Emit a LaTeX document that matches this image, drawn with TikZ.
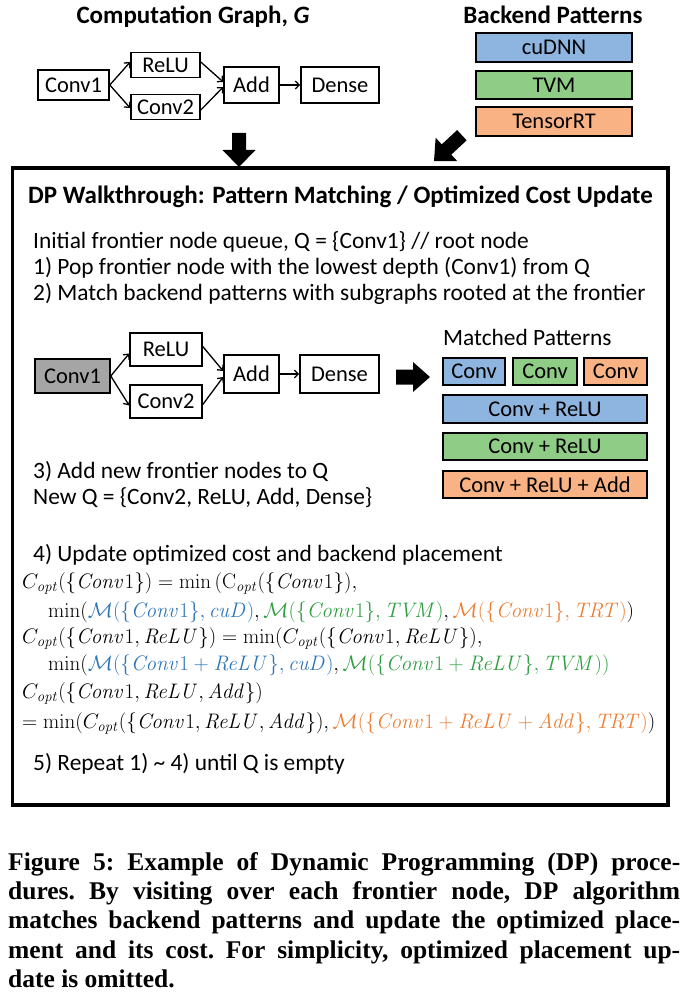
\RequirePackage{fix-cm}
\documentclass[tikz,border=0pt]{standalone}
\usepackage[no-math]{fontspec}
\setmainfont{Carlito}
\newfontfamily\capfont{Liberation Serif}
\usetikzlibrary{arrows.meta}
\definecolor{bfill}{HTML}{8EB4E0}
\definecolor{gfill}{HTML}{8FCD86}
\definecolor{ofill}{HTML}{F8B284}
\definecolor{mblue}{HTML}{2E75B6}
\definecolor{mgreen}{HTML}{2E9E40}
\definecolor{morange}{HTML}{ED7D31}
\definecolor{gshade}{HTML}{A5A5A5}
\newcommand{\mi}[1]{\mathit{#1}}
\tikzset{
 gbox/.style={draw, line width=1.6pt, inner sep=0pt, font=\fontsize{22.5}{24}\selectfont},
 edge/.style={line width=1.3pt, -{Straight Barb[length=4pt,width=8pt]}},
 txt/.style={anchor=base west, inner sep=0pt, font=\fontsize{23.4}{26}\selectfont},
 mth/.style={anchor=base west, inner sep=0pt, font=\fontsize{21}{25}\selectfont},
 ttl/.style={anchor=base, inner sep=0pt, font=\bfseries\fontsize{25}{27}\selectfont},
 capline/.style={anchor=base west, inner sep=0pt, font=\capfont\bfseries\frenchspacing\fontsize{25.5}{29}\selectfont},
}
\begin{document}
\begin{tikzpicture}[x=1pt,y=-1pt]
\useasboundingbox (0,0) rectangle (686,995);
% ---- top computation graph
\node[ttl] (t1) at (193,24) {Computation Graph, \textit{G}};
\node[gbox, minimum width=71pt, minimum height=30pt] (c1) at (73.5,85) {Conv1};
\node[gbox, minimum width=69pt, minimum height=25pt] (r1) at (165.5,65) {ReLU};
\node[gbox, minimum width=69pt, minimum height=25pt] (v1) at (165.5,107) {Conv2};
\node[gbox, minimum width=55pt, minimum height=36pt] (a1) at (251.5,85) {Add};
\node[gbox, minimum width=78pt, minimum height=36pt] (d1) at (340,85) {Dense};
\draw[edge] (c1.east) -- ([yshift=3pt]r1.west);
\draw[edge] (c1.east) -- ([yshift=-1pt]v1.west);
\draw[edge] ([yshift=3pt]r1.east) -- ([yshift=3pt]a1.west);
\draw[edge] ([yshift=-3pt]v1.east) -- ([yshift=-2pt]a1.west);
\draw[edge] (a1.east) -- (d1.west);
% ---- backend patterns
\node[ttl] (t2) at (553,24) {Backend Patterns};
\node[gbox, fill=bfill, minimum width=156pt, minimum height=29pt] (p1) at (554,47.5) {cuDNN};
\node[gbox, fill=gfill, minimum width=156pt, minimum height=28pt] (p2) at (554,85) {TVM};
\node[gbox, fill=ofill, minimum width=156pt, minimum height=29pt] (p3) at (554,121.5) {TensorRT};
% ---- big arrows
\fill (232,133) -- (246,133) -- (246,150) -- (255.5,150) -- (239,167) -- (222.5,150) -- (232,150) -- cycle;
\fill (457.15,130.06) -- (466.65,140.34) -- (451.25,154.64) -- (457.36,161.24) -- (434,161) -- (435.64,137.76) -- (441.75,144.36) -- cycle;
% ---- main frame
\draw[line width=3.5pt] (12.5,168) rectangle (668,805);
\node[ttl, anchor=base west] (t3) at (28,204) {DP Walkthrough: Pattern Matching / Optimized Cost Update};
\node[txt] (l1) at (33,248) {Initial frontier node queue, Q = \{Conv1\} // root node};
\node[txt] (l2) at (33,274) {1) Pop frontier node with the lowest depth (Conv1) from Q};
\node[txt] (l3) at (33,300) {2) Match backend patterns with subgraphs rooted at the frontier};
% ---- middle graph
\node[gbox, fill=gshade, minimum width=75pt, minimum height=34pt] (c2) at (72.5,376) {Conv1};
\node[gbox, minimum width=72pt, minimum height=33pt] (r2) at (166,349.5) {ReLU};
\node[gbox, minimum width=72pt, minimum height=33pt] (v2) at (166,401.5) {Conv2};
\node[gbox, minimum width=55pt, minimum height=38pt] (a2) at (251.5,374) {Add};
\node[gbox, minimum width=79pt, minimum height=38pt] (d2) at (339.5,374) {Dense};
\draw[edge] (c2.east) -- ([yshift=-4pt]r2.west);
\draw[edge] (c2.east) -- ([yshift=-4pt]v2.west);
\draw[edge] ([yshift=3pt]r2.east) -- ([yshift=3pt]a2.west);
\draw[edge] ([yshift=-3pt]v2.east) -- ([yshift=-3pt]a2.west);
\draw[edge] (a2.east) -- (d2.west);
\fill (396,369.5) -- (413,369.5) -- (413,362) -- (430,377) -- (413,392) -- (413,384.5) -- (396,384.5) -- cycle;
% ---- matched patterns
\node[txt] (mp) at (443,345) {Matched Patterns};
\node[gbox, fill=bfill, minimum width=62pt, minimum height=27pt] (m1) at (474,371.5) {Conv};
\node[gbox, fill=gfill, minimum width=64pt, minimum height=27pt] (m2) at (545,371.5) {Conv};
\node[gbox, fill=ofill, minimum width=63pt, minimum height=27pt] (m3) at (615.5,371.5) {Conv};
\node[gbox, fill=bfill, minimum width=204pt, minimum height=28pt] (m4) at (545,409) {Conv + ReLU};
\node[gbox, fill=gfill, minimum width=204pt, minimum height=27pt] (m5) at (545,446.5) {Conv + ReLU};
\node[gbox, fill=ofill, minimum width=204pt, minimum height=27pt] (m6) at (545,484.5) {Conv + ReLU + Add};
% ---- step 3 and 4
\node[txt] (l4) at (33,478) {3) Add new frontier nodes to Q};
\node[txt] (l5) at (33,504) {New Q = \{Conv2, ReLU, Add, Dense\}};
\node[txt] (l6) at (33,561) {4) Update optimized cost and backend placement};
\node[mth] (f1) at (22,588) {$C_{\mi{opt}}(\{\mi{Conv}1\}) = \min\,(\mathrm{C}_{\mi{opt}}(\{\mi{Conv}1\}),$};
\node[mth] (f2) at (48,617) {$\min(\textcolor{mblue}{\mathcal{M}(\{\mi{Conv}1\},\mi{cuD})},\textcolor{mgreen}{\mathcal{M}(\{\mi{Conv}1\},\mi{TVM})},\textcolor{morange}{\mathcal{M}(\{\mi{Conv}1\},\mi{TRT})})$};
\node[mth] (f3) at (22,643) {$C_{\mi{opt}}(\{\mi{Conv}1,\mi{ReLU}\}) = \min(C_{\mi{opt}}(\{\mi{Conv}1,\mi{ReLU}\}),$};
\node[mth] (f4) at (48,670) {$\min(\textcolor{mblue}{\mathcal{M}(\{\mi{Conv}1+\mi{ReLU}\},\mi{cuD})},\textcolor{mgreen}{\mathcal{M}(\{\mi{Conv}1+\mi{ReLU}\},\mi{TVM}))}$};
\node[mth] (f5) at (22,698) {$C_{\mi{opt}}(\{\mi{Conv}1,\mi{ReLU},\mi{Add}\})$};
\node[mth] (f6) at (22,728) {$=\min(C_{\mi{opt}}(\{\mi{Conv}1,\mi{ReLU},\mi{Add}\}),\textcolor{morange}{\mathcal{M}(\{\mi{Conv}1+\mi{ReLU}+\mi{Add}\},\mi{TRT})})$};
\node[txt] (l7) at (33,770) {5) Repeat 1) \textasciitilde{} 4) until Q is empty};
% ---- caption
\node[capline] (k1) at (8,870) {\makebox[672pt][s]{Figure 5: Example of Dynamic Programming (DP) proce-}};
\node[capline] (k2) at (8,899) {\makebox[672pt][s]{dures. By visiting over each frontier node, DP algorithm}};
\node[capline] (k3) at (8,928) {\makebox[672pt][s]{matches backend patterns and update the optimized place-}};
\node[capline] (k4) at (8,958) {\makebox[672pt][s]{ment and its cost. For simplicity, optimized placement up-}};
\node[capline] (k5) at (8,987) {date is omitted.};
\end{tikzpicture}
\end{document}
